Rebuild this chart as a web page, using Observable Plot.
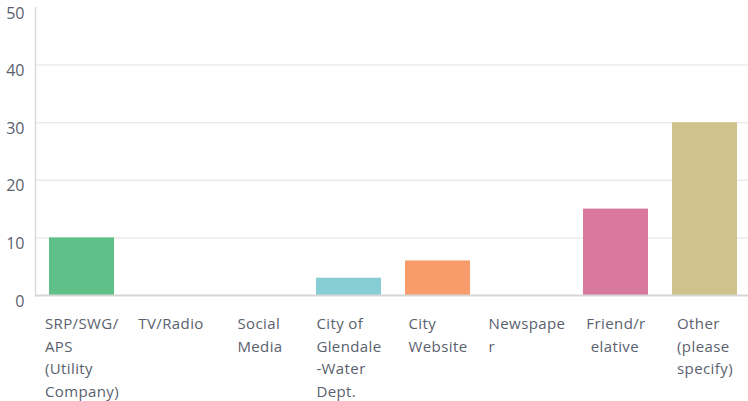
<!DOCTYPE html>
<html>
<head>
<meta charset="utf-8">
<script src="https://cdn.jsdelivr.net/npm/d3@7"></script>
<script src="https://cdn.jsdelivr.net/npm/@observablehq/plot@0.6"></script>
<style>
  html, body { margin: 0; padding: 0; background: #fff; }
  svg { display: block; }
  g[aria-label="text"] text { letter-spacing: 0.4px; }
</style>
</head>
<body>
<div id="chart"></div>
<script>
const categories = ["SRP/SWG/APS", "TV/Radio", "Social Media", "City of Glendale-Water Dept.", "City Website", "Newspaper", "Friend/relative", "Other (please specify)"];
const labels = ["SRP/SWG/\nAPS\n(Utility\nCompany)", "TV/Radio", "Social\nMedia", "City of\nGlendale\n-Water\nDept.", "City\nWebsite", "Newspape\nr", "Friend/r\n\u00a0elative", "Other\n(please\nspecify)"];
const values = [10, 0, 0, 3, 6, 0, 15, 30];
const colors = ["#5fc187", "#5fc187", "#5fc187", "#87ced4", "#f89c6b", "#f89c6b", "#d7789c", "#cfc28b"];
const yTicks = [0, 10, 20, 30, 40, 50];
const gridTicks = [10, 20, 30, 40];

const data = categories.map((c, i) => ({cat: c, label: labels[i], value: values[i], color: colors[i]}));

const textColor = "#5a5f6e";

const chart = Plot.plot({
  width: 748,
  height: 401,
  marginLeft: 35,
  marginRight: 0,
  marginTop: 7,
  marginBottom: 106,
  style: {fontFamily: "'Open Sans', sans-serif", background: "#fff"},
  x: {domain: categories, range: [35.86, 750.2], paddingInner: 0.272, paddingOuter: 0.136, axis: null},
  y: {domain: [0, 50], axis: null},
  marks: [
    Plot.gridY(gridTicks, {stroke: "#ebebeb", strokeOpacity: 1, strokeWidth: 1.5}),
    Plot.barY(data, {x: "cat", y: "value", fill: "color"}),
    Plot.ruleY([0], {stroke: "#d6d6d6", strokeWidth: 2}),
    Plot.frame({anchor: "left", stroke: "#dadada", strokeWidth: 1.5}),
    Plot.axisY(yTicks, {tickSize: 0, tickPadding: 11, dy: 6, fontSize: 16, fill: textColor, label: null, tickFormat: d => String(d)}),
    Plot.text(data, {x: "cat", y: 0, text: "label", textAnchor: "start", dy: 18, lineAnchor: "top", lineHeight: 1.5, fontSize: 15, fill: textColor})
  ]
});

document.getElementById("chart").appendChild(chart);

// center each wrapped label block under its bar (lines stay left-aligned)
d3.select(chart).selectAll('g[aria-label="text"] text').each(function() {
  const w = this.getBBox().width;
  const t = this.getAttribute("transform") || "";
  this.setAttribute("transform", t + ` translate(${-w / 2},0)`);
});
</script>
</body>
</html>
